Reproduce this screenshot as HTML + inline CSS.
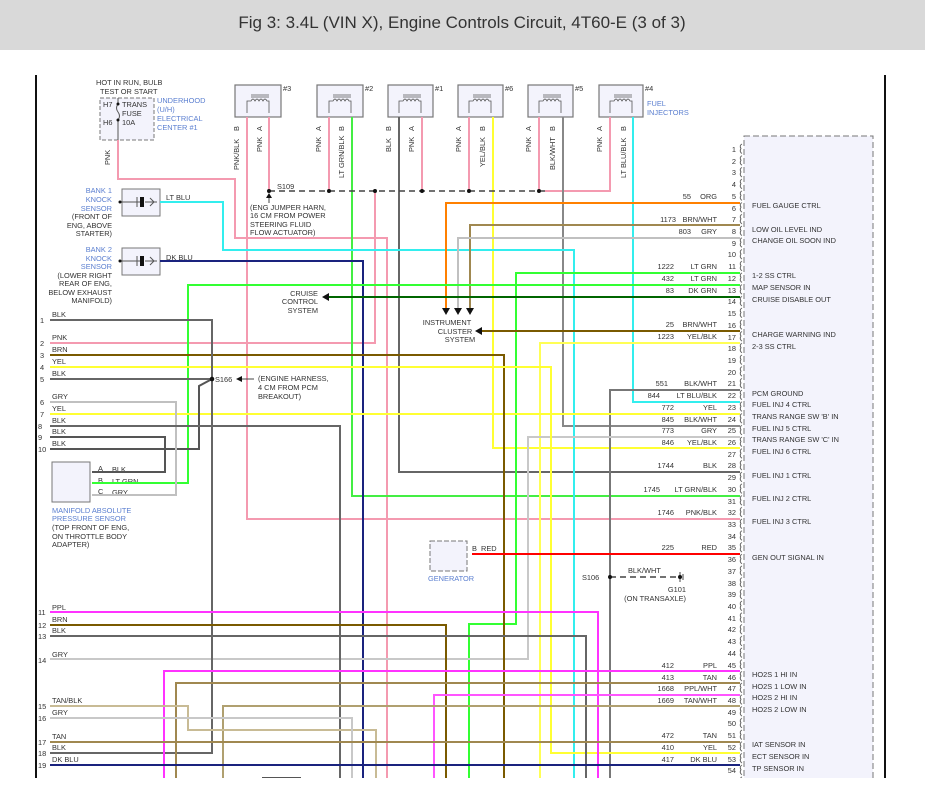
<!DOCTYPE html>
<html><head><meta charset="utf-8"><style>
body{margin:0;background:#fff;}
svg{display:block;font-family:"Liberation Sans",sans-serif;}
text{font-size:7.4px;fill:#333;}
.b{fill:#5b7fd0;}
.r{text-anchor:end;}
.w{fill:none;stroke-width:2;}
</style></head><body>
<svg width="925" height="804" viewBox="0 0 925 804">
<defs>
<pattern id="pins" x="736" y="143.5" width="10" height="11.72" patternUnits="userSpaceOnUse">
<path d="M6 0.5 Q3 2 5 5 Q3 8 6 10" fill="none" stroke="#555" stroke-width="0.9"/>
</pattern>
<clipPath id="cl"><rect x="0" y="0" width="925" height="778"/></clipPath>
</defs>
<rect x="0" y="0" width="925" height="50" fill="#d9d9d9"/>
<text x="462" y="28" text-anchor="middle" style="font-size:17px;fill:#333">Fig 3: 3.4L (VIN X), Engine Controls Circuit, 4T60-E (3 of 3)</text>
<line x1="36" y1="75" x2="36" y2="778" stroke="#111" stroke-width="2"/>
<line x1="885" y1="75" x2="885" y2="778" stroke="#111" stroke-width="2"/>
<g clip-path="url(#cl)">
<rect x="744" y="136" width="129" height="650" fill="#f3f3fc" stroke="#777" stroke-dasharray="6 3"/>
<rect x="738" y="143" width="8" height="635" fill="url(#pins)"/>
<!-- injectors -->
<g fill="#f3f3fc" stroke="#777" stroke-width="1.2">
<rect x="235" y="85" width="46" height="32"/><rect x="317" y="85" width="46" height="32"/><rect x="388" y="85" width="45" height="32"/>
<rect x="458" y="85" width="45" height="32"/><rect x="528" y="85" width="45" height="32"/><rect x="599" y="85" width="44" height="32"/>
</g>
<g stroke="#555" fill="none" stroke-width="0.8">
<path d="M247 113V101h4q2-4 4 0q2-4 4 0q2-4 4 0q2-4 4 0h2V113 M251 95h18 M251 97h18"/>
<path d="M329 113V101h4q2-4 4 0q2-4 4 0q2-4 4 0q2-4 4 0h2V113 M333 95h18 M333 97h18"/>
<path d="M399 113V101h4q2-4 4 0q2-4 4 0q2-4 4 0q2-4 4 0h2V113 M403 95h18 M403 97h18"/>
<path d="M469 113V101h4q2-4 4 0q2-4 4 0q2-4 4 0q2-4 4 0h2V113 M473 95h18 M473 97h18"/>
<path d="M539 113V101h4q2-4 4 0q2-4 4 0q2-4 4 0q2-4 4 0h2V113 M543 95h18 M543 97h18"/>
<path d="M610 113V101h4q2-4 4 0q2-4 4 0q2-4 4 0q2-4 4 0h2V113 M614 95h18 M614 97h18"/>
</g>
<text x="283" y="91">#3</text><text x="365" y="91">#2</text><text x="435" y="91">#1</text><text x="505" y="91">#6</text><text x="575" y="91">#5</text><text x="645" y="91">#4</text>
<text x="647" y="106" class="b">FUEL</text><text x="647" y="115" class="b">INJECTORS</text>
<!-- fuse -->
<rect x="100" y="98" width="54" height="42" fill="#f3f3fc" stroke="#777" stroke-dasharray="4 2"/>
<text x="96" y="85">HOT IN RUN, BULB</text><text x="100" y="94">TEST OR START</text>
<text x="103" y="107">H7</text><text x="103" y="125">H6</text><text x="122" y="107">TRANS</text><text x="122" y="116">FUSE</text><text x="122" y="125">10A</text>
<path d="M118 98V104M118 120V140 M118 104q-3 4 0 8q3 4 0 8" stroke="#555" fill="none"/>
<circle cx="118" cy="104" r="1.5" fill="#111"/><circle cx="118" cy="120" r="1.5" fill="#111"/>
<text x="157" y="103" class="b">UNDERHOOD</text><text x="157" y="112" class="b">(U/H)</text><text x="157" y="121" class="b">ELECTRICAL</text><text x="157" y="130" class="b">CENTER #1</text>
<!-- knock sensors -->
<rect x="122" y="189" width="38" height="27" fill="#f3f3fc" stroke="#777"/>
<rect x="122" y="248" width="38" height="27" fill="#f3f3fc" stroke="#777"/>
<path d="M120 202h20M137 197v10M145 202h12M150 198l4 4-4 4 M120 261h20M137 256v10M145 261h12M150 257l4 4-4 4" stroke="#555" fill="none"/>
<rect x="140" y="197" width="4" height="10" fill="#111"/><rect x="140" y="256" width="4" height="10" fill="#111"/>
<circle cx="120" cy="202" r="1.5" fill="#111"/><circle cx="120" cy="261" r="1.5" fill="#111"/>
<text x="112" y="193" class="b r">BANK 1</text><text x="112" y="202" class="b r">KNOCK</text><text x="112" y="211" class="b r">SENSOR</text>
<text x="112" y="219" class="r">(FRONT OF</text><text x="112" y="228" class="r">ENG, ABOVE</text><text x="112" y="236" class="r">STARTER)</text>
<text x="112" y="252" class="b r">BANK 2</text><text x="112" y="261" class="b r">KNOCK</text><text x="112" y="269" class="b r">SENSOR</text>
<text x="112" y="278" class="r">(LOWER RIGHT</text><text x="112" y="286" class="r">REAR OF ENG,</text><text x="112" y="295" class="r">BELOW EXHAUST</text><text x="112" y="303" class="r">MANIFOLD)</text>
<text x="166" y="200">LT BLU</text><text x="166" y="260">DK BLU</text>
<!-- MAP -->
<rect x="52" y="462" width="38" height="40" fill="#f3f3fc" stroke="#777"/>
<text x="52" y="513" class="b">MANIFOLD ABSOLUTE</text><text x="52" y="521" class="b">PRESSURE SENSOR</text>
<text x="52" y="530">(TOP FRONT OF ENG,</text><text x="52" y="539">ON THROTTLE BODY</text><text x="52" y="547">ADAPTER)</text>
<text x="98" y="471">A</text><text x="112" y="472">BLK</text><text x="98" y="483">B</text><text x="112" y="484">LT GRN</text><text x="98" y="494">C</text><text x="112" y="495">GRY</text>
<!-- generator -->
<rect x="430" y="541" width="37" height="30" fill="#f3f3fc" stroke="#777" stroke-dasharray="5 2"/>
<text x="428" y="581" class="b">GENERATOR</text><text x="472" y="551">B</text><text x="481" y="551">RED</text>

<!-- wires -->
<g class="w">
<path d="M118 140V179H235V238H387V790" stroke="#f49ab0"/>
<path d="M247 117V519H740" stroke="#f49ab0"/>
<path d="M269 117V191" stroke="#f49ab0"/>
<path d="M329 117V191" stroke="#f49ab0"/>
<path d="M422 117V191" stroke="#f49ab0"/>
<path d="M469 117V191" stroke="#f49ab0"/>
<path d="M539 117V191" stroke="#f49ab0"/>
<path d="M610 117V191H545" stroke="#f49ab0"/>
<path d="M375 191V343H50" stroke="#f49ab0"/>
<path d="M352 117V496H740" stroke="#44ee44"/>
<path d="M399 117V472H740" stroke="#666"/>
<path d="M493 117V448H740" stroke="#ffff33"/>
<path d="M563 117V426H740" stroke="#888"/>
<path d="M633 117V402H740" stroke="#33eeee"/>
<path d="M160 202H223V250H574V790" stroke="#33eeee"/>
<path d="M160 261H363V790" stroke="#1a237e"/>
<path d="M740 203H446V308" stroke="#ff8000"/>
<path d="M740 225H470V308" stroke="#a08850"/>
<path d="M740 238H458V308" stroke="#c0c0c0"/>
<path d="M740 273H516V624H469V790" stroke="#33ff33"/>
<path d="M740 285H188V483H92" stroke="#33ff33"/>
<path d="M740 297H326" stroke="#006600"/>
<path d="M740 331H480" stroke="#7a5a00"/>
<path d="M740 343H540V790" stroke="#ffff55"/>
<path d="M740 390H610V790" stroke="#777"/>
<path d="M50 414H740" stroke="#ffff33"/>
<path d="M740 437H528V659H50" stroke="#c8c8c8"/>
<path d="M50 355H504V790" stroke="#7a5a00"/>
<path d="M50 367H551V753H740" stroke="#ffff33"/>
<path d="M50 320H212V753H50" stroke="#666"/>
<path d="M50 379H212" stroke="#666"/>
<path d="M50 449H199V386L212 379" stroke="#555"/>
<path d="M50 437H165V472H92" stroke="#555"/>
<path d="M50 402H176V495H92" stroke="#c0c0c0"/>
<path d="M50 426H340V790" stroke="#666"/>
<path d="M50 612H598V790" stroke="#ff33ff"/>
<path d="M50 625H446V790" stroke="#7a5a00"/>
<path d="M50 636H586V790" stroke="#666"/>
<path d="M740 671H164V790" stroke="#ff33ff"/>
<path d="M740 683H176V790" stroke="#a08850"/>
<path d="M740 695H434V790" stroke="#ff55ff"/>
<path d="M740 706H223V790" stroke="#b0a070"/>
<path d="M50 706H188V730H376V790" stroke="#c8bb95"/>
<path d="M50 718H352V790" stroke="#c8c8c8"/>
<path d="M50 742H740" stroke="#a08850"/>
<path d="M50 765H740" stroke="#1a237e"/>
<path d="M472 554H740" stroke="#ff0000"/>
<path d="M262 778H301" stroke="#555"/>
</g>
<path d="M269 191H545" stroke="#444" stroke-width="1.5" stroke-dasharray="6 4" fill="none"/>
<path d="M610 577H678" stroke="#444" stroke-width="1.5" stroke-dasharray="6 4" fill="none"/>
<path d="M680 572v10M683 574v6" stroke="#444"/>
<g fill="#111">
<circle cx="269" cy="191" r="2"/><circle cx="329" cy="191" r="2"/><circle cx="375" cy="191" r="2"/><circle cx="422" cy="191" r="2"/><circle cx="469" cy="191" r="2"/><circle cx="539" cy="191" r="2"/>
<circle cx="212" cy="379" r="2.3"/><circle cx="610" cy="577" r="2"/><circle cx="680" cy="577" r="2"/>
<path d="M442 308h8l-4 7z M454 308h8l-4 7z M466 308h8l-4 7z"/>
<path d="M322 297l7-4v8z M475 331l7-4v8z"/>
<path d="M269 193l-3 5h6z"/>
<path d="M236 379l6-3v6z"/>
</g>
<path d="M269 198v5 M242 379h12" stroke="#444"/>
<!-- misc labels -->
<text x="277" y="189">S109</text>
<text x="250" y="210">(ENG JUMPER HARN,</text><text x="250" y="218">16 CM FROM POWER</text><text x="250" y="227">STEERING FLUID</text><text x="250" y="235">FLOW ACTUATOR)</text>
<text x="318" y="296" class="r">CRUISE</text><text x="318" y="304" class="r">CONTROL</text><text x="318" y="313" class="r">SYSTEM</text>
<text x="447" y="325" text-anchor="middle">INSTRUMENT</text><text x="455" y="334" text-anchor="middle">CLUSTER</text><text x="460" y="342" text-anchor="middle">SYSTEM</text>
<text x="215" y="382">S166</text>
<text x="258" y="381">(ENGINE HARNESS,</text><text x="258" y="390">4 CM FROM PCM</text><text x="258" y="399">BREAKOUT)</text>
<text x="582" y="580">S106</text><text x="628" y="573">BLK/WHT</text>
<text x="686" y="592" class="r">G101</text><text x="686" y="601" class="r">(ON TRANSAXLE)</text>
<!-- vertical injector labels -->
<g style="font-size:7.4px">
<text transform="translate(239,170) rotate(-90)">PNK/BLK</text><text transform="translate(239,131) rotate(-90)">B</text>
<text transform="translate(262,152) rotate(-90)">PNK</text><text transform="translate(262,131) rotate(-90)">A</text>
<text transform="translate(321,152) rotate(-90)">PNK</text><text transform="translate(321,131) rotate(-90)">A</text>
<text transform="translate(344,178) rotate(-90)">LT GRN/BLK</text><text transform="translate(344,131) rotate(-90)">B</text>
<text transform="translate(391,152) rotate(-90)">BLK</text><text transform="translate(391,131) rotate(-90)">B</text>
<text transform="translate(414,152) rotate(-90)">PNK</text><text transform="translate(414,131) rotate(-90)">A</text>
<text transform="translate(461,152) rotate(-90)">PNK</text><text transform="translate(461,131) rotate(-90)">A</text>
<text transform="translate(485,167) rotate(-90)">YEL/BLK</text><text transform="translate(485,131) rotate(-90)">B</text>
<text transform="translate(531,152) rotate(-90)">PNK</text><text transform="translate(531,131) rotate(-90)">A</text>
<text transform="translate(555,170) rotate(-90)">BLK/WHT</text><text transform="translate(555,131) rotate(-90)">B</text>
<text transform="translate(602,152) rotate(-90)">PNK</text><text transform="translate(602,131) rotate(-90)">A</text>
<text transform="translate(626,178) rotate(-90)">LT BLU/BLK</text><text transform="translate(626,131) rotate(-90)">B</text>
<text transform="translate(110,165) rotate(-90)">PNK</text>
</g>
<!-- left pins -->
<g>
<text x="40" y="323">1</text><text x="52" y="317">BLK</text>
<text x="40" y="346">2</text><text x="52" y="340">PNK</text>
<text x="40" y="358">3</text><text x="52" y="352">BRN</text>
<text x="40" y="370">4</text><text x="52" y="364">YEL</text>
<text x="40" y="382">5</text><text x="52" y="376">BLK</text>
<text x="40" y="405">6</text><text x="52" y="399">GRY</text>
<text x="40" y="417">7</text><text x="52" y="411">YEL</text>
<text x="38" y="429">8</text><text x="52" y="423">BLK</text>
<text x="38" y="440">9</text><text x="52" y="434">BLK</text>
<text x="38" y="452">10</text><text x="52" y="446">BLK</text>
<text x="38" y="615">11</text><text x="52" y="610">PPL</text>
<text x="38" y="628">12</text><text x="52" y="622">BRN</text>
<text x="38" y="639">13</text><text x="52" y="633">BLK</text>
<text x="38" y="663">14</text><text x="52" y="657">GRY</text>
<text x="38" y="709">15</text><text x="52" y="703">TAN/BLK</text>
<text x="38" y="721">16</text><text x="52" y="715">GRY</text>
<text x="38" y="745">17</text><text x="52" y="739">TAN</text>
<text x="38" y="756">18</text><text x="52" y="750">BLK</text>
<text x="38" y="768">19</text><text x="52" y="762">DK BLU</text>
</g>
<!-- PCM wire labels -->
<g>
<text x="691" y="199" class="r">55</text><text x="717" y="199" class="r">ORG</text>
<text x="676" y="222" class="r">1173</text><text x="717" y="222" class="r">BRN/WHT</text>
<text x="691" y="234" class="r">803</text><text x="717" y="234" class="r">GRY</text>
<text x="674" y="269" class="r">1222</text><text x="717" y="269" class="r">LT GRN</text>
<text x="674" y="281" class="r">432</text><text x="717" y="281" class="r">LT GRN</text>
<text x="674" y="293" class="r">83</text><text x="717" y="293" class="r">DK GRN</text>
<text x="674" y="327" class="r">25</text><text x="717" y="327" class="r">BRN/WHT</text>
<text x="674" y="339" class="r">1223</text><text x="717" y="339" class="r">YEL/BLK</text>
<text x="668" y="386" class="r">551</text><text x="717" y="386" class="r">BLK/WHT</text>
<text x="660" y="398" class="r">844</text><text x="717" y="398" class="r">LT BLU/BLK</text>
<text x="674" y="410" class="r">772</text><text x="717" y="410" class="r">YEL</text>
<text x="674" y="422" class="r">845</text><text x="717" y="422" class="r">BLK/WHT</text>
<text x="674" y="433" class="r">773</text><text x="717" y="433" class="r">GRY</text>
<text x="674" y="445" class="r">846</text><text x="717" y="445" class="r">YEL/BLK</text>
<text x="674" y="468" class="r">1744</text><text x="717" y="468" class="r">BLK</text>
<text x="660" y="492" class="r">1745</text><text x="717" y="492" class="r">LT GRN/BLK</text>
<text x="674" y="515" class="r">1746</text><text x="717" y="515" class="r">PNK/BLK</text>
<text x="674" y="550" class="r">225</text><text x="717" y="550" class="r">RED</text>
<text x="674" y="668" class="r">412</text><text x="717" y="668" class="r">PPL</text>
<text x="674" y="680" class="r">413</text><text x="717" y="680" class="r">TAN</text>
<text x="674" y="691" class="r">1668</text><text x="717" y="691" class="r">PPL/WHT</text>
<text x="674" y="703" class="r">1669</text><text x="717" y="703" class="r">TAN/WHT</text>
<text x="674" y="738" class="r">472</text><text x="717" y="738" class="r">TAN</text>
<text x="674" y="750" class="r">410</text><text x="717" y="750" class="r">YEL</text>
<text x="674" y="762" class="r">417</text><text x="717" y="762" class="r">DK BLU</text>
</g>
<!-- PCM pin numbers -->
<g>
<text x="736" y="152" class="r">1</text><text x="736" y="164" class="r">2</text><text x="736" y="175" class="r">3</text><text x="736" y="187" class="r">4</text><text x="736" y="199" class="r">5</text><text x="736" y="211" class="r">6</text><text x="736" y="222" class="r">7</text><text x="736" y="234" class="r">8</text><text x="736" y="246" class="r">9</text><text x="736" y="257" class="r">10</text>
<text x="736" y="269" class="r">11</text><text x="736" y="281" class="r">12</text><text x="736" y="293" class="r">13</text><text x="736" y="304" class="r">14</text><text x="736" y="316" class="r">15</text><text x="736" y="328" class="r">16</text><text x="736" y="340" class="r">17</text><text x="736" y="351" class="r">18</text><text x="736" y="363" class="r">19</text><text x="736" y="375" class="r">20</text>
<text x="736" y="386" class="r">21</text><text x="736" y="398" class="r">22</text><text x="736" y="410" class="r">23</text><text x="736" y="422" class="r">24</text><text x="736" y="433" class="r">25</text><text x="736" y="445" class="r">26</text><text x="736" y="457" class="r">27</text><text x="736" y="468" class="r">28</text><text x="736" y="480" class="r">29</text><text x="736" y="492" class="r">30</text>
<text x="736" y="504" class="r">31</text><text x="736" y="515" class="r">32</text><text x="736" y="527" class="r">33</text><text x="736" y="539" class="r">34</text><text x="736" y="550" class="r">35</text><text x="736" y="562" class="r">36</text><text x="736" y="574" class="r">37</text><text x="736" y="586" class="r">38</text><text x="736" y="597" class="r">39</text><text x="736" y="609" class="r">40</text>
<text x="736" y="621" class="r">41</text><text x="736" y="632" class="r">42</text><text x="736" y="644" class="r">43</text><text x="736" y="656" class="r">44</text><text x="736" y="668" class="r">45</text><text x="736" y="680" class="r">46</text><text x="736" y="691" class="r">47</text><text x="736" y="703" class="r">48</text><text x="736" y="715" class="r">49</text><text x="736" y="726" class="r">50</text>
<text x="736" y="738" class="r">51</text><text x="736" y="750" class="r">52</text><text x="736" y="762" class="r">53</text><text x="736" y="773" class="r">54</text>
</g>
<!-- PCM function labels -->
<g>
<text x="752" y="208">FUEL GAUGE CTRL</text><text x="752" y="232">LOW OIL LEVEL IND</text><text x="752" y="243">CHANGE OIL SOON IND</text>
<text x="752" y="278">1-2 SS CTRL</text><text x="752" y="290">MAP SENSOR IN</text><text x="752" y="302">CRUISE DISABLE OUT</text>
<text x="752" y="337">CHARGE WARNING IND</text><text x="752" y="349">2-3 SS CTRL</text>
<text x="752" y="396">PCM GROUND</text><text x="752" y="407">FUEL INJ 4 CTRL</text><text x="752" y="419">TRANS RANGE SW 'B' IN</text>
<text x="752" y="431">FUEL INJ 5 CTRL</text><text x="752" y="442">TRANS RANGE SW 'C' IN</text><text x="752" y="454">FUEL INJ 6 CTRL</text>
<text x="752" y="478">FUEL INJ 1 CTRL</text><text x="752" y="501">FUEL INJ 2 CTRL</text><text x="752" y="524">FUEL INJ 3 CTRL</text>
<text x="752" y="560">GEN OUT SIGNAL IN</text>
<text x="752" y="677">HO2S 1 HI IN</text><text x="752" y="689">HO2S 1 LOW IN</text><text x="752" y="700">HO2S 2 HI IN</text><text x="752" y="712">HO2S 2 LOW IN</text>
<text x="752" y="747">IAT SENSOR IN</text><text x="752" y="759">ECT SENSOR IN</text><text x="752" y="771">TP SENSOR IN</text>
</g>
</g>
</svg>
</body></html>
